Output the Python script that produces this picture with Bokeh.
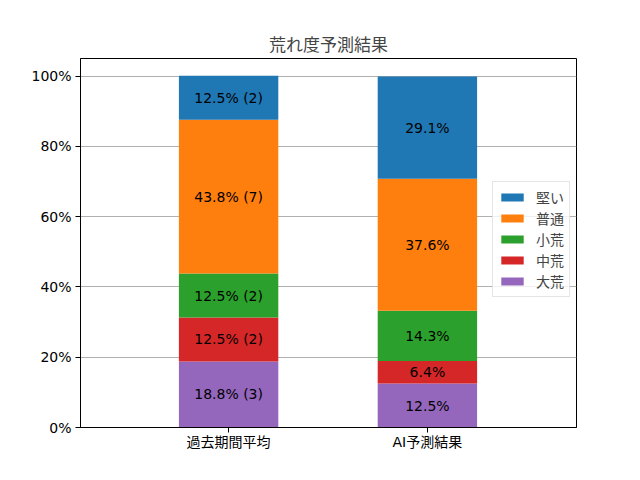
from bokeh.plotting import figure
from bokeh.models import ColumnDataSource, Legend, LegendItem, FixedTicker, Range1d, PrintfTickFormatter
from bokeh.core.properties import value
from bokeh.embed import file_html
from bokeh.resources import INLINE

title = "荒れ度予測結果"
groups = ["過去期間平均", "AI予測結果"]
levels = ["大荒", "中荒", "小荒", "普通", "堅い"]  # bottom -> top
colors = ["#9467bd", "#d62728", "#2ca02c", "#ff7f0e", "#1f77b4"]
past_pct = [18.8, 12.5, 12.5, 43.8, 12.5]
past_cnt = [3, 2, 2, 7, 2]
ai_pct = [12.5, 6.4, 14.3, 37.6, 29.1]
y_ticks = [0, 20, 40, 60, 80, 100]

FONT = "DejaVu Sans, Noto Sans CJK JP"

xs = [0, 1]
data = {"x": xs}
for i, lv in enumerate(levels):
    data[lv] = [past_pct[i], ai_pct[i]]
src = ColumnDataSource(data)

p = figure(width=640, height=480, output_backend="svg", toolbar_location=None,
           x_range=Range1d(-0.745, 1.75), y_range=Range1d(0, 105),
           min_border_left=80, min_border_right=64, min_border_top=58, min_border_bottom=53)
p.title.text = title
p.title.align = "center"
p.title.text_font = FONT
p.title.text_font_size = "17px"
p.title.text_font_style = "normal"
p.title.standoff = 7

rs = p.vbar_stack(levels, x="x", width=0.5, color=colors, source=src, line_width=0)

# labels
lx, ly, lt = [], [], []
for j, (pcts, cnts) in enumerate([(past_pct, past_cnt), (ai_pct, None)]):
    cum = 0
    for i, v in enumerate(pcts):
        lx.append(xs[j])
        ly.append(cum + v / 2)
        lt.append(f"{v:.1f}% ({cnts[i]})" if cnts else f"{v:.1f}%")
        cum += v
p.text(x=lx, y=ly, text=lt, text_align="center", text_baseline="middle",
       text_font=value(FONT), text_font_size="14px", text_color="black")

p.xgrid.visible = False
p.ygrid.grid_line_color = "#b0b0b0"
p.ygrid.grid_line_width = 1
p.ygrid.ticker = FixedTicker(ticks=y_ticks)

p.outline_line_color = "black"
p.outline_line_width = 1
p.outline_line_alpha = 1

p.yaxis.ticker = FixedTicker(ticks=y_ticks)
p.yaxis.formatter = PrintfTickFormatter(format="%d%%")
p.xaxis.ticker = FixedTicker(ticks=xs)
p.xaxis.major_label_overrides = {0: groups[0], 1: groups[1]}
for ax in (p.xaxis[0], p.yaxis[0]):
    ax.major_label_text_font = FONT
    ax.major_label_text_font_size = "14px"
    ax.major_label_text_color = "black"
    ax.axis_line_color = "black"
    ax.major_tick_line_color = "black"
    ax.major_tick_in = 0
    ax.major_tick_out = 5
    ax.minor_tick_line_color = None
    ax.major_label_standoff = 4
p.xaxis.major_label_standoff = 1

items = [LegendItem(label=levels[i], renderers=[rs[i]]) for i in reversed(range(len(levels)))]
leg = Legend(items=items, location=(412, 130), orientation="vertical",
             label_text_font=FONT, label_text_font_size="14px",
             glyph_width=28, glyph_height=10, label_height=16, spacing=1,
             padding=5, margin=0, label_standoff=10,
             border_line_color="#cccccc", border_line_width=1,
             background_fill_color="white", background_fill_alpha=0.8)
p.add_layout(leg, "center")

open("out.html", "w").write(file_html(p, INLINE))
